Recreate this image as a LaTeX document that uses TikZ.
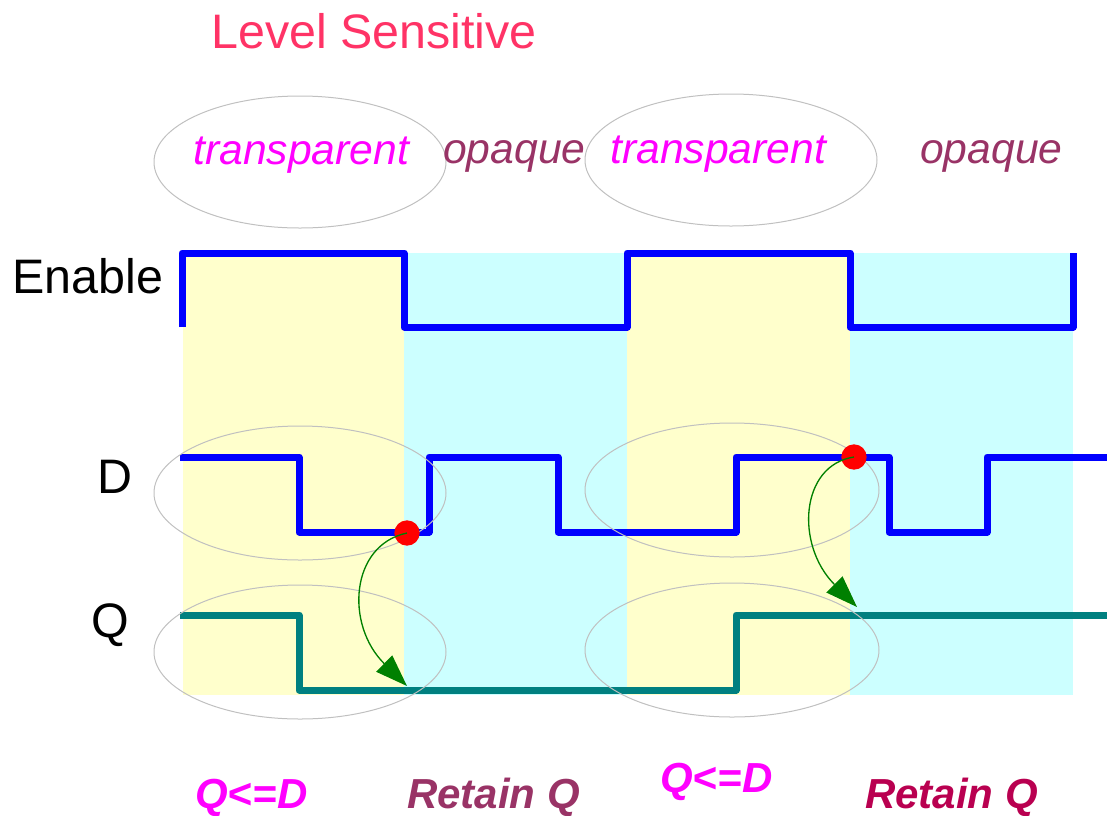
\documentclass[tikz,border=0pt]{standalone}
\usepackage{fontspec}
\setmainfont{Liberation Sans}
\usetikzlibrary{arrows.meta}

\definecolor{titlered}{RGB}{255,51,102}
\definecolor{phasemagenta}{RGB}{255,0,255}
\definecolor{opaquepurple}{RGB}{153,51,102}
\definecolor{retainred}{RGB}{185,0,80}
\definecolor{bgyellow}{RGB}{255,255,204}
\definecolor{bgcyan}{RGB}{204,255,255}
\definecolor{qteal}{RGB}{0,128,128}
\definecolor{ringgray}{RGB}{192,192,192}
\definecolor{arrowgreen}{RGB}{0,128,0}

\tikzset{
  wave/.style={line width=5.25pt, line join=round},
  ring/.style={draw=ringgray, line width=0.75pt},
  bigtext/.style={font=\fontsize{36.3}{40}\selectfont, inner sep=0pt, anchor=base west},
  phasetext/.style={font=\fontsize{32}{36}\selectfont\itshape, inner sep=0pt, anchor=base west},
  actiontext/.style={font=\fontsize{31.5}{36}\selectfont\bfseries\itshape, inner sep=0pt, anchor=base west},
  event/.style={circle, fill=red, inner sep=0pt, minimum size=19pt},
  causal/.style={arrowgreen, line width=1pt, -{Triangle[length=24pt,width=17pt]}},
}

\begin{document}
\begin{tikzpicture}[x=0.75pt,y=0.75pt,yscale=-1,xscale=1]
\useasboundingbox (0,0) rectangle (1107,815);

%Shape: Rectangle [transparent 1]
\fill [bgyellow] (183,253) rectangle (404,695);
%Shape: Rectangle [opaque 1]
\fill [bgcyan] (404,253) rectangle (627,695);
%Shape: Rectangle [transparent 2]
\fill [bgyellow] (627,253) rectangle (850,695);
%Shape: Rectangle [opaque 2]
\fill [bgcyan] (850,253) rectangle (1073,695);

%Straight Lines [Enable]
\draw [wave, blue] (182,327) -- (182,253) -- (404,253) -- (404,327) -- (627,327) -- (627,253) -- (850,253) -- (850,327) -- (1073,327) -- (1073,253) ;
%Straight Lines [D]
\draw [wave, blue] (180,457) -- (299,457) -- (299,532) -- (429,532) -- (429,457) -- (558,457) -- (558,532) -- (736,532) -- (736,457) -- (889,457) -- (889,532) -- (987,532) -- (987,457) -- (1107,457) ;
%Straight Lines [Q]
\draw [wave, qteal] (180,615) -- (299,615) -- (299,690) -- (736,690) -- (736,615) -- (1107,615) ;

%Shape: Ellipse
\draw [ring] (300,162) ellipse [x radius=146, y radius=66] ;
\draw [ring] (731,160) ellipse [x radius=146, y radius=66] ;
\draw [ring] (300,493) ellipse [x radius=146, y radius=67] ;
\draw [ring] (300,652) ellipse [x radius=146, y radius=67] ;
\draw [ring] (732,490) ellipse [x radius=147, y radius=67] ;
\draw [ring] (732,650) ellipse [x radius=147, y radius=67] ;

%Shape: Circle
\draw (407,533) node [event] (dotA) {} ;
\draw (854,457) node [event] (dotB) {} ;
\coordinate (qA) at (407,686) ;
\coordinate (qB) at (857,607) ;

%Curve Lines
\draw [causal] (dotA.center) .. controls (350,545) and (345,625) .. (qA) ;
\draw [causal] (dotB.center) .. controls (800,465) and (795,545) .. (qB) ;

% Text Node
\draw (211,48) node [bigtext, titlered] (title) {Level Sensitive};
% Text Node
\draw (12,293) node [bigtext] (enlabel) {Enable};
% Text Node
\draw (97,493) node [bigtext] (dlabel) {D};
% Text Node
\draw (91,637) node [bigtext] (qlabel) {Q};
% Text Node
\draw (193,164) node [phasetext, phasemagenta] (transA) {transparent};
% Text Node
\draw (443,163) node [phasetext, opaquepurple] (opaqA) {opaque};
% Text Node
\draw (610,163) node [phasetext, phasemagenta] (transB) {transparent};
% Text Node
\draw (920,163) node [phasetext, opaquepurple] (opaqB) {opaque};
% Text Node
\draw (195,808) node [actiontext, phasemagenta] (loadA) {Q<=D};
% Text Node
\draw (407,808) node [actiontext, opaquepurple] (keepA) {Retain Q};
% Text Node
\draw (660,792) node [actiontext, phasemagenta] (loadB) {Q<=D};
% Text Node
\draw (865,808) node [actiontext, retainred] (keepB) {Retain Q};

\end{tikzpicture}
\end{document}
